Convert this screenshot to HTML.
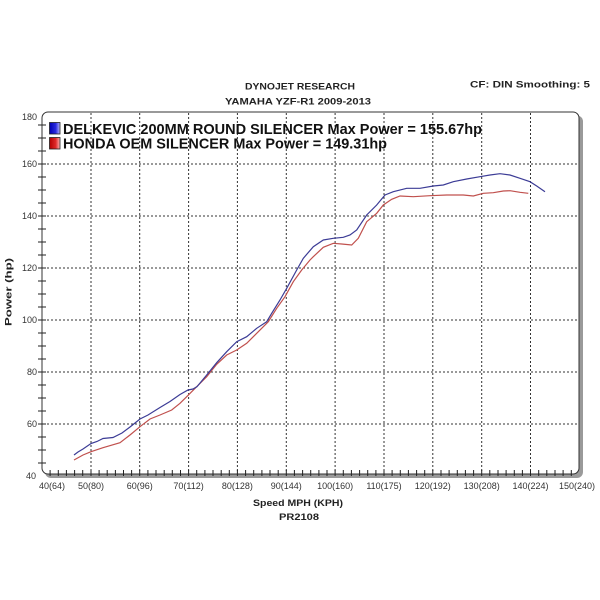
<!DOCTYPE html>
<html><head><meta charset="utf-8"><style>
html,body{margin:0;padding:0;background:#fff;}
svg{display:block;}
text{font-family:"Liberation Sans",Arial,sans-serif;}
</style></head><body>
<svg width="600" height="600" viewBox="0 0 600 600" xmlns="http://www.w3.org/2000/svg">
<defs>
<linearGradient id="gb" x1="0" x2="1" y1="0" y2="0"><stop offset="0" stop-color="#0000b0"/><stop offset="0.6" stop-color="#2a2ae0"/><stop offset="1" stop-color="#b8b8ff"/></linearGradient>
<linearGradient id="gr" x1="0" x2="1" y1="0" y2="0"><stop offset="0" stop-color="#b00000"/><stop offset="0.6" stop-color="#e02a2a"/><stop offset="1" stop-color="#ffb8b8"/></linearGradient>
</defs>
<rect width="600" height="600" fill="#fff"/>
<!-- titles -->
<text x="300" y="89.5" font-size="9.5" font-weight="bold" text-anchor="middle" fill="#222" textLength="110" lengthAdjust="spacingAndGlyphs">DYNOJET RESEARCH</text>
<text x="298" y="104.5" font-size="9.5" font-weight="bold" text-anchor="middle" fill="#222" textLength="146" lengthAdjust="spacingAndGlyphs">YAMAHA YZF-R1 2009-2013</text>
<text x="470" y="87.5" font-size="9.5" font-weight="bold" fill="#222" textLength="120" lengthAdjust="spacingAndGlyphs">CF: DIN  Smoothing: 5</text>
<!-- frame shadow -->
<rect x="45" y="115.5" width="538" height="362.5" rx="6" fill="#9a9a9a"/>
<rect x="42" y="112" width="537" height="362" rx="6" fill="#fff" stroke="#333" stroke-width="1"/>
<!-- grid -->
<g stroke="#333" stroke-width="1" stroke-dasharray="2,2">
<line x1="91" y1="113" x2="91" y2="473"/>
<line x1="139.7" y1="113" x2="139.7" y2="473"/>
<line x1="188.6" y1="113" x2="188.6" y2="473"/>
<line x1="237.4" y1="113" x2="237.4" y2="473"/>
<line x1="286.3" y1="113" x2="286.3" y2="473"/>
<line x1="335.1" y1="113" x2="335.1" y2="473"/>
<line x1="384" y1="113" x2="384" y2="473"/>
<line x1="432.8" y1="113" x2="432.8" y2="473"/>
<line x1="481.7" y1="113" x2="481.7" y2="473"/>
<line x1="530.5" y1="113" x2="530.5" y2="473"/>
<line x1="43" y1="164" x2="578" y2="164"/>
<line x1="43" y1="216" x2="578" y2="216"/>
<line x1="43" y1="268" x2="578" y2="268"/>
<line x1="43" y1="320" x2="578" y2="320"/>
<line x1="43" y1="372" x2="578" y2="372"/>
<line x1="43" y1="424" x2="578" y2="424"/>
</g>
<!-- y ticks -->
<g stroke="#222" stroke-width="1">
<line x1="38" y1="125" x2="46" y2="125"/><line x1="38" y1="138" x2="46" y2="138"/><line x1="38" y1="151" x2="46" y2="151"/><line x1="38" y1="164" x2="46" y2="164"/>
<line x1="38" y1="177" x2="46" y2="177"/><line x1="38" y1="190" x2="46" y2="190"/><line x1="38" y1="203" x2="46" y2="203"/><line x1="38" y1="216" x2="46" y2="216"/>
<line x1="38" y1="229" x2="46" y2="229"/><line x1="38" y1="242" x2="46" y2="242"/><line x1="38" y1="255" x2="46" y2="255"/><line x1="38" y1="268" x2="46" y2="268"/>
<line x1="38" y1="281" x2="46" y2="281"/><line x1="38" y1="294" x2="46" y2="294"/><line x1="38" y1="307" x2="46" y2="307"/><line x1="38" y1="320" x2="46" y2="320"/>
<line x1="38" y1="333" x2="46" y2="333"/><line x1="38" y1="346" x2="46" y2="346"/><line x1="38" y1="359" x2="46" y2="359"/><line x1="38" y1="372" x2="46" y2="372"/>
<line x1="38" y1="385" x2="46" y2="385"/><line x1="38" y1="398" x2="46" y2="398"/><line x1="38" y1="411" x2="46" y2="411"/><line x1="38" y1="424" x2="46" y2="424"/>
<line x1="38" y1="437" x2="46" y2="437"/><line x1="38" y1="450" x2="46" y2="450"/><line x1="38" y1="463" x2="46" y2="463"/>
</g>
<!-- x ticks -->
<g stroke="#222" stroke-width="1" id="xt"></g>
<path d="M50.1,470V476M58.3,470V476M66.4,470V476M74.6,470V476M82.7,470V476M91,470V476M99.1,470V476M107.2,470V476M115.4,470V476M123.5,470V476M131.6,470V476M139.7,470V476M147.9,470V476M156,470V476M164.2,470V476M172.3,470V476M180.5,470V476M188.6,470V476M196.7,470V476M204.9,470V476M213,470V476M221.2,470V476M229.3,470V476M237.4,470V476M245.6,470V476M253.7,470V476M261.9,470V476M270,470V476M278.2,470V476M286.3,470V476M294.4,470V476M302.6,470V476M310.7,470V476M318.9,470V476M327,470V476M335.1,470V476M343.3,470V476M351.4,470V476M359.6,470V476M367.7,470V476M375.9,470V476M384,470V476M392.1,470V476M400.3,470V476M408.4,470V476M416.6,470V476M424.7,470V476M432.8,470V476M441,470V476M449.1,470V476M457.3,470V476M465.4,470V476M473.6,470V476M481.7,470V476M489.8,470V476M498,470V476M506.1,470V476M514.3,470V476M522.4,470V476M530.5,470V476M538.7,470V476M546.8,470V476M555,470V476M563.1,470V476M571.3,470V476" stroke="#222" stroke-width="1" fill="none"/>
<!-- y labels -->
<g font-size="9" fill="#333" text-anchor="end">
<text x="37" y="120">180</text>
<text x="37" y="167">160</text>
<text x="37" y="219">140</text>
<text x="37" y="271">120</text>
<text x="37" y="323">100</text>
<text x="37" y="375">80</text>
<text x="37" y="427">60</text>
<text x="36" y="479">40</text>
</g>
<!-- x labels -->
<g font-size="9" fill="#333" text-anchor="middle">
<text x="52" y="489">40(64)</text>
<text x="91" y="489">50(80)</text>
<text x="139.7" y="489">60(96)</text>
<text x="188.6" y="489">70(112)</text>
<text x="237.4" y="489">80(128)</text>
<text x="286.3" y="489">90(144)</text>
<text x="335.1" y="489">100(160)</text>
<text x="384" y="489">110(175)</text>
<text x="432.8" y="489">120(192)</text>
<text x="481.7" y="489">130(208)</text>
<text x="530.5" y="489">140(224)</text>
<text x="577" y="489">150(240)</text>
</g>
<text x="298" y="506" font-size="9.5" font-weight="bold" text-anchor="middle" fill="#222" textLength="90" lengthAdjust="spacingAndGlyphs">Speed MPH (KPH)</text>
<text x="299" y="520" font-size="9.5" font-weight="bold" text-anchor="middle" fill="#222" textLength="40" lengthAdjust="spacingAndGlyphs">PR2108</text>
<text transform="translate(11.5,292) rotate(-90)" font-size="9.5" font-weight="bold" text-anchor="middle" fill="#222" textLength="68" lengthAdjust="spacingAndGlyphs">Power (hp)</text>
<!-- legend -->
<rect x="49.5" y="122.5" width="10.5" height="11.5" fill="url(#gb)" stroke="#222" stroke-width="0.8"/>
<rect x="49.5" y="137.5" width="10.5" height="11.5" fill="url(#gr)" stroke="#222" stroke-width="0.8"/>
<text x="63" y="134" font-size="15" font-weight="bold" fill="#111" textLength="419" lengthAdjust="spacingAndGlyphs">DELKEVIC 200MM ROUND SILENCER Max Power = 155.67hp</text>
<text x="63" y="148.7" font-size="15" font-weight="bold" fill="#111" textLength="324" lengthAdjust="spacingAndGlyphs">HONDA OEM SILENCER Max Power = 149.31hp</text>
<!-- curves -->
<polyline fill="none" stroke="#c0504d" stroke-width="1.2" points="74,460 83,455 91,451.7 103,447.7 120,442.7 130,435 140,426.7 150,419 160,415 171.7,410 180,403.3 186.7,396.7 196.7,386.7 206.7,376.7 216.7,364.3 226.7,355 236.7,350 246.7,343.3 256.7,333.3 268.3,321.7 276.7,308.3 285,296.7 293.3,281.7 301.7,270 310,260 313.3,256.7 323.3,247.3 333.3,243.3 341.7,244 351.7,245 358.3,238.3 366.7,221.7 376.7,213.3 383.3,205 391.7,199.3 400,196 413.3,196.7 430,195.7 446.7,195 463.3,195 473.3,196 483.3,193.3 493.3,192.7 503.3,191 510,190.7 520,192.3 528.3,193.3"/>
<polyline fill="none" stroke="#3c3c96" stroke-width="1.2" points="74,455 78,452 83,449 91,443.5 97,441.5 103,438.5 113,437.5 122,433 130,427 140,419 148,415 160,407.5 170,401.5 180,394.5 188,390 193,389 197,386.7 206.7,375 216.7,362.7 226.7,351.7 236.7,341.7 246.7,336.7 256.7,328.3 266.7,321.7 271.7,313.3 280,300 286.7,288.3 296.7,270 303.3,258.3 313.3,246.7 323.3,240 333.3,238.3 343.3,237.3 350,235 356.7,230 366.7,215 376.7,205 385,195 393.3,191.7 406.7,188.3 420,188.3 433.3,186 443.3,185 453.3,181.7 466.7,179 480,176.7 490,175 500,173.7 510,175 520,178.3 530,181.7 536.7,186 545,191.7"/>
</svg>
</body></html>
